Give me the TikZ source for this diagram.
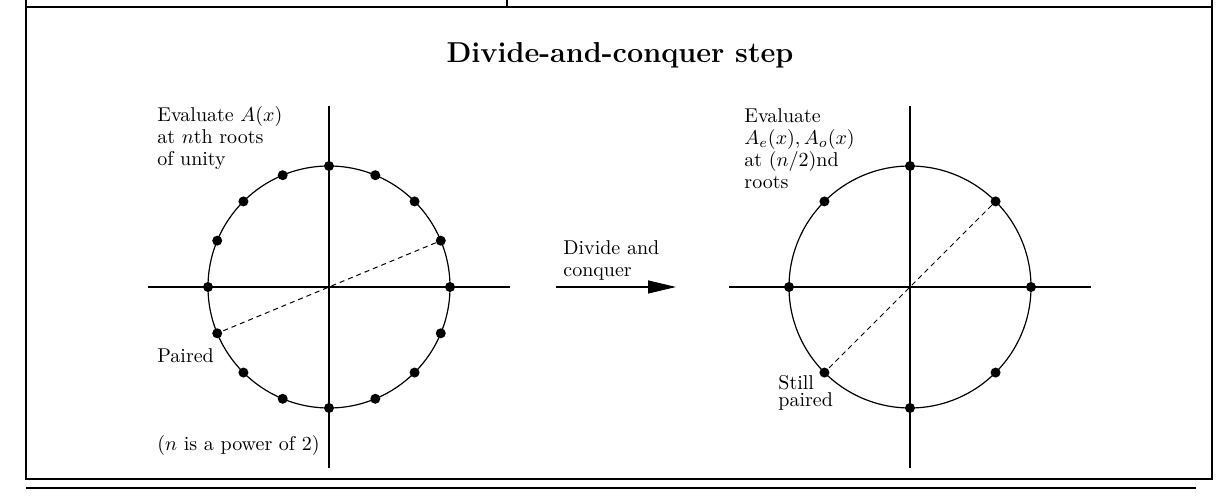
\documentclass[tikz,border=0pt]{standalone}
\usetikzlibrary{arrows.meta}

\tikzset{
  dot/.style={circle,fill=black,inner sep=0pt,minimum size=5pt},
  txt/.style={anchor=west,align=left,inner sep=0pt,font=\fontsize{10}{11}\selectfont},
  axis/.style={line width=0.6pt},
}

\begin{document}
\begin{tikzpicture}[x=0.5pt,y=0.5pt]
    \useasboundingbox (0,0) rectangle (1225,496);

    % frame
    \draw[line width=1.3pt] (26,496) -- (26,17) -- (1212,17) -- (1212,496);
    \draw[line width=1pt] (26,489) -- (1212,489);
    \draw[line width=1pt] (507,496) -- (507,489);
    \draw[line width=1pt] (26,8) -- (1196,8);

    \node[font=\fontsize{14.4}{16}\selectfont\bfseries] (title) at (620,441) {Divide-and-conquer step};

    % left circle, 16 roots
    \coordinate (L) at (329,209);
    \draw[axis] (L) circle (121);
    \draw[axis] (L) ++(-181,0) -- ++(362,0);
    \draw[axis] (L) ++(0,-181) -- ++(0,362);
    \foreach \i in {0,...,15} \node[dot] (l\i) at ([shift={(\i*22.5:121)}]L) {};
    \draw[dashed, dash pattern=on 2.5pt off 2pt, line width=0.5pt] (l1) -- (l9);

    % right circle, 8 roots
    \coordinate (R) at (910,209);
    \draw[axis] (R) circle (121);
    \draw[axis] (R) ++(-181,0) -- ++(362,0);
    \draw[axis] (R) ++(0,-181) -- ++(0,362);
    \foreach \i in {0,...,7} \node[dot] (r\i) at ([shift={(\i*45:121)}]R) {};
    \draw[dashed, dash pattern=on 2.5pt off 2pt, line width=0.5pt] (r1) -- (r5);

    % arrow
    \coordinate (a1) at (556,209);
    \coordinate (a2) at (676,209);
    \draw[line width=0.6pt,-{Triangle[length=14pt,width=6.5pt]}] (a1) -- (a2);

    \node[txt] (evl) at (157,358) {Evaluate $A(x)$\\at $n$th roots\\of unity};
    \node[txt] (pairl) at (157,140) {Paired};
    \node[txt] (pow) at (157,50) {($n$ is a power of 2)};
    \node[txt] (evr) at (744,347) {Evaluate\\$A_e(x), A_o(x)$\\at $(n/2)$nd\\roots};
    \node[txt,font=\fontsize{10}{8.5}\selectfont] (pairr) at (778,103) {Still\\paired};
    \node[txt] (dc) at (563,235) {Divide and\\conquer};

\end{tikzpicture}
\end{document}
